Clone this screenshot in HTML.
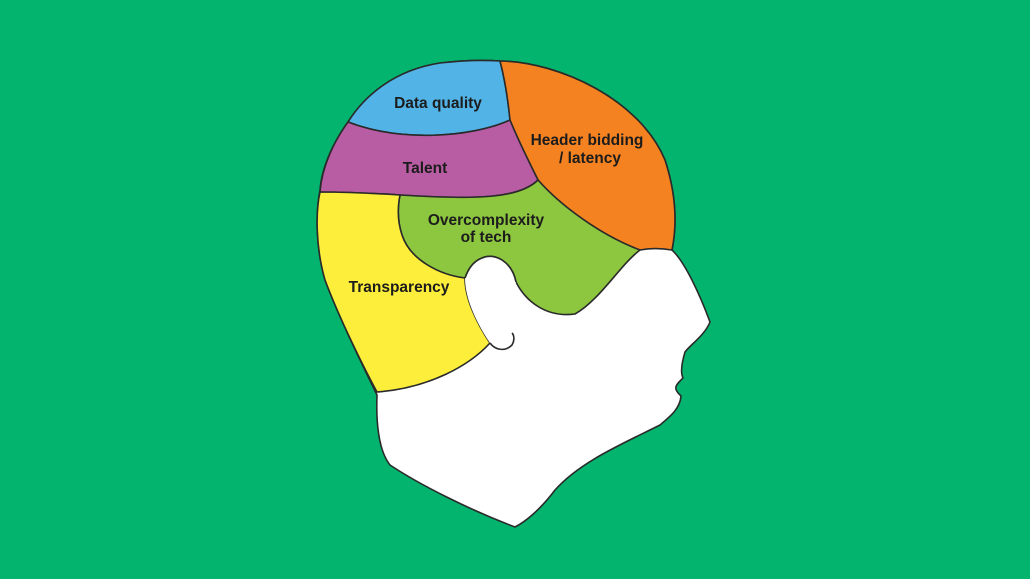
<!DOCTYPE html>
<html><head><style>
html,body{margin:0;padding:0;background:#02b46d;}
svg{display:block}
text{font-family:"Liberation Sans",sans-serif;font-weight:bold;font-size:15.5px;fill:#1c1c1c;text-anchor:middle}
</style></head><body>
<svg width="1030" height="579" viewBox="0 0 1030 579">
<rect width="1030" height="579" fill="#02b46d"/>
<g stroke="#2a2a2a" stroke-width="1.6" stroke-linejoin="round">
<path fill="#fff" d="M500,61 C560,62 640,100 665,160 C678,200 676,230 672,250 C685,262 700,295 710,322 C705,335 690,345 685,352 C682,362 680,372 683,378 C676,385 672,388 681,396 C680,408 672,415 660,425 C620,445 580,462 555,490 C540,510 525,522 515,527 C470,510 420,485 390,465 C378,450 376,420 377,395 C365,370 340,320 325,280 C315,245 316,210 320,190 C322,165 335,140 348,122 C365,95 395,70 440,63 C465,60 485,60 500,61 Z"/>
<path fill="#52b3e6" d="M348,122 C365,95 395,70 440,63 C465,60 485,60 500,61 C505,80 508,100 510,120 C470,138 400,142 348,122 Z"/>
<path fill="#f58220" d="M500,61 C560,62 640,100 665,160 C678,200 676,230 672,250 C660,248 650,248 640,250 C600,235 560,205 538,180 C528,160 518,140 510,120 C508,100 505,80 500,61 Z"/>
<path fill="#b85ca4" d="M348,122 C400,142 470,138 510,120 C518,140 528,160 538,180 C520,198 480,200 400,195 C370,193 340,192 320,192 C322,165 335,140 348,122 Z"/>
<path fill="#8dc63f" d="M400,195 C480,200 520,198 538,180 C560,205 600,235 640,250 C620,265 600,300 575,314 C545,318 525,300 516,282 C512,262 495,252 482,258 C472,262 468,270 465,278 C440,275 410,260 402,235 C397,220 398,205 400,195 Z"/>
<path fill="#fcee3a" d="M320,192 C340,192 370,193 400,195 C398,205 397,220 402,235 C410,260 440,275 465,278 C465,300 478,325 490,343 C470,365 430,388 377,392 C365,370 340,320 325,280 C315,245 316,210 320,192 Z"/>
<path fill="#fff" stroke="none" d="M465,278 C468,270 472,262 482,258 C495,252 512,262 516,282 C510,300 505,320 500,335 C495,342 492,343 490,343 C478,325 465,300 465,278 Z"/>
<path fill="none" d="M465,278 C468,270 472,262 482,258 C495,252 512,262 516,282"/>
<path fill="none" d="M490,343 C495,350 505,352 512,345 C515,340 514,335 512,333"/>
</g>
<text x="438" y="108">Data quality</text>
<text x="587" y="145">Header bidding</text>
<text x="590" y="163">/ latency</text>
<text x="425" y="173">Talent</text>
<text x="486" y="225">Overcomplexity</text>
<text x="486" y="242">of tech</text>
<text x="399" y="292">Transparency</text>
</svg>
</body></html>
